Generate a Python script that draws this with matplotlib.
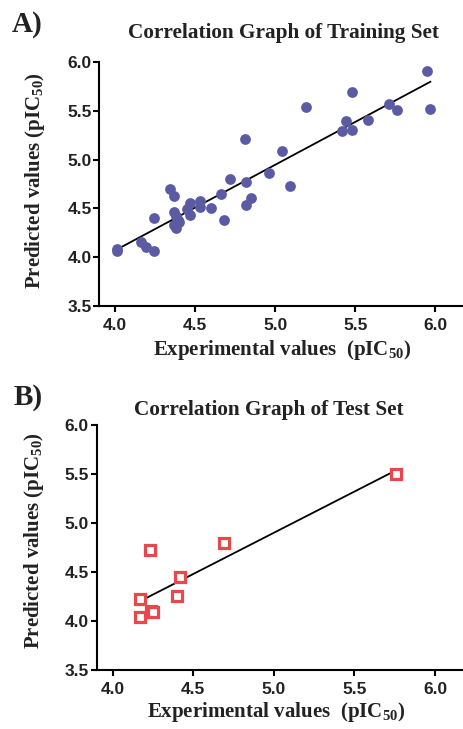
import numpy as np
import matplotlib
matplotlib.use('Agg')
import matplotlib.pyplot as plt

# training set (experimental, predicted)
train_exp = [4.01, 4.01, 4.16, 4.19, 4.24, 4.24, 4.34, 4.37, 4.37, 4.38,
             4.39, 4.40, 4.37, 4.38, 4.45, 4.47, 4.47, 4.53, 4.53, 4.60,
             4.66, 4.68, 4.72, 4.81, 4.82, 4.82, 4.85, 4.96, 5.04, 5.09,
             5.19, 5.42, 5.44, 5.48, 5.48, 5.58, 5.71, 5.76, 5.95, 5.97]
train_pred = [4.09, 4.06, 4.16, 4.11, 4.06, 4.40, 4.70, 4.63, 4.46, 4.42,
              4.38, 4.36, 4.33, 4.30, 4.49, 4.56, 4.43, 4.58, 4.52, 4.50,
              4.65, 4.38, 4.80, 5.21, 4.77, 4.54, 4.61, 4.86, 5.09, 4.73,
              5.54, 5.29, 5.40, 5.69, 5.30, 5.41, 5.57, 5.51, 5.91, 5.52]

# test set
test_exp = [4.23, 4.69, 4.42, 4.40, 4.17, 4.17, 4.24, 4.25, 5.76]
test_pred = [4.72, 4.80, 4.45, 4.25, 4.22, 4.04, 4.10, 4.09, 5.50]

ticks = [4.0, 4.5, 5.0, 5.5, 6.0]
tick_labels = ['4.0', '4.5', '5.0', '5.5', '6.0']

plt.rcParams['mathtext.fontset'] = 'custom'
plt.rcParams['mathtext.rm'] = 'Liberation Serif:bold'
plt.rcParams['mathtext.default'] = 'rm'

serif = 'Liberation Serif'
sans = 'Liberation Sans'

fig = plt.figure(figsize=(4.64, 7.29), dpi=100)


def maak_paneel(ax, x, y, stijl, xlab_pos, ylab_pos):
    '''Een correlatiepaneel tekenen met regressielijn'''
    if stijl == 'rond':
        ax.scatter(x, y, s=60, color='#5b5ba3', zorder=3, linewidths=0)
    else:
        ax.plot(x, y, 's', ms=7.8, mfc='white', mec='#e8474e', mew=2.3,
                ls='none', zorder=3)
    a, b = np.polyfit(x, y, 1)
    xs = np.array([min(x), max(x)])
    ax.plot(xs, a * xs + b, color='black', lw=1.3, zorder=2)

    ax.set_xlim(3.9, 6.18)
    ax.set_ylim(3.5, 6.0)
    ax.set_xticks(ticks)
    ax.set_xticklabels(tick_labels)
    ax.set_yticks([3.5] + ticks)
    ax.set_yticklabels(['3.5'] + tick_labels)
    for sp in ['top', 'right']:
        ax.spines[sp].set_visible(False)
    for sp in ['left', 'bottom']:
        ax.spines[sp].set_linewidth(1.5)
    ax.tick_params(direction='out', length=4.5, width=1.5, labelsize=12.5)
    ax.tick_params(axis='x', pad=4)
    ax.tick_params(axis='y', pad=1)
    for lab in ax.get_xticklabels() + ax.get_yticklabels():
        lab.set_fontfamily(sans)
        lab.set_fontweight('bold')
        lab.set_color('#222222')
    ax.set_xlabel('Experimental values  (pIC$_{50}$)', family=serif,
                  weight='bold', fontsize=15, color='#222222', va='center')
    ax.set_ylabel('Predicted values (pIC$_{50}$)', family=serif,
                  weight='bold', fontsize=15, color='#222222', va='center')
    ax.xaxis.set_label_coords(*xlab_pos)
    ax.yaxis.set_label_coords(*ylab_pos)


ax1 = fig.add_axes([0.214, 0.580, 0.786, 0.335])
maak_paneel(ax1, train_exp, train_pred, 'rond', (0.502, -0.18), (-0.176, 0.516))
ax2 = fig.add_axes([0.208, 0.081, 0.792, 0.336])
maak_paneel(ax2, test_exp, test_pred, 'vierkant', (0.489, -0.171), (-0.171, 0.53))

fig.text(0.611, 0.955, 'Correlation Graph of Training Set', family=serif,
         weight='bold', fontsize=15.3, ha='center', va='center', color='#222222')
fig.text(0.579, 0.437, 'Correlation Graph of Test Set', family=serif,
         weight='bold', fontsize=15.3, ha='center', va='center', color='#222222')
fig.text(0.025, 0.967, 'A)', family=serif, weight='bold', fontsize=21,
         ha='left', va='center', color='#222222')
fig.text(0.030, 0.455, 'B)', family=serif, weight='bold', fontsize=21,
         ha='left', va='center', color='#222222')

fig.savefig('out.png', dpi=100)
